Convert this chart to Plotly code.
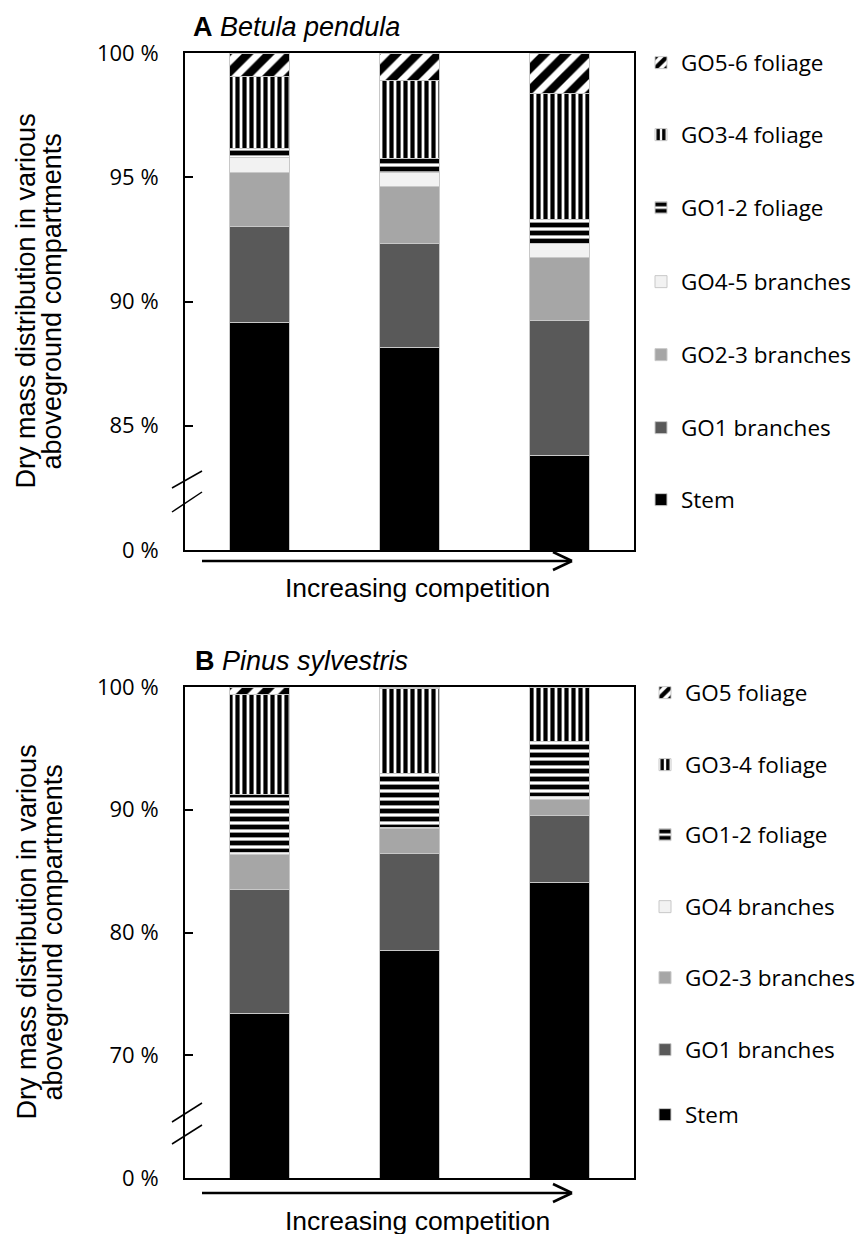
import plotly.graph_objects as go

W, H = 863, 1234
OFF = 8  # page body margin of the html page

# ---------------- data ----------------
categories = ["c1", "c2", "c3"]

# Panel A: Betula pendula (bottom -> top)
a_labels = ["Stem", "GO1 branches", "GO2-3 branches", "GO4-5 branches",
            "GO1-2 foliage", "GO3-4 foliage", "GO5-6 foliage"]
a_stem = [89.15, 88.15, 83.79]
a_go1_br = [3.87, 4.19, 5.44]
a_go23_br = [2.18, 2.30, 2.54]
a_go45_br = [0.60, 0.56, 0.57]
a_go12_fol = [0.36, 0.57, 0.97]
a_go34_fol = [2.91, 3.14, 5.08]
a_go56_fol = [0.93, 1.09, 1.61]

# Panel B: Pinus sylvestris (bottom -> top)
b_labels = ["Stem", "GO1 branches", "GO2-3 branches", "GO4 branches",
            "GO1-2 foliage", "GO3-4 foliage", "GO5 foliage"]
b_stem = [73.43, 78.57, 84.11]
b_go1_br = [10.11, 7.90, 5.46]
b_go23_br = [2.85, 2.02, 1.30]
b_go4_br = [0.16, 0.10, 0.17]
b_go12_fol = [4.73, 4.40, 4.48]
b_go34_fol = [8.15, 6.85, 4.40]
b_go5_fol = [0.57, 0.16, 0.08]

a_tickvals = [80, 85, 90, 95, 100]
a_ticktext = ["0 %", "85 %", "90 %", "95 %", "100 %"]
b_tickvals = [60, 70, 80, 90, 100]
b_ticktext = ["0 %", "70 %", "80 %", "90 %", "100 %"]

y_title = ["Dry mass distribution in various", "aboveground compartments"]
x_text = "Increasing competition"
title_a = "<b>A</b> <i>Betula pendula</i>"
title_b = "<b>B</b> <i>Pinus sylvestris</i>"

# ---------------- styles ----------------
styles = [
    dict(color="#000000"),
    dict(color="#595959"),
    dict(color="#a6a6a6"),
    dict(color="#f2f2f2"),
    dict(color="white", pattern=dict(shape="-", fgcolor="#000000", bgcolor="white", fgopacity=1,
                                     size=8, solidity=0.6)),
    dict(color="white", pattern=dict(shape="|", fgcolor="#000000", bgcolor="white", fgopacity=1,
                                     size=7, solidity=0.6)),
    dict(color="white", pattern=dict(shape="/", fgcolor="#000000", bgcolor="white", fgopacity=1,
                                     size=15, solidity=0.55)),
]

def px2x(p):
    return (p - OFF) / W

def py2y(p):
    return 1 - (p - OFF) / H

fig = go.Figure()

a_series = [a_stem, a_go1_br, a_go23_br, a_go45_br, a_go12_fol, a_go34_fol, a_go56_fol]
b_series = [b_stem, b_go1_br, b_go23_br, b_go4_br, b_go12_fol, b_go34_fol, b_go5_fol]

# legend item centres (pixels)
a_leg_y = [500, 428, 355, 282, 208, 135, 63]
b_leg_y = [1115, 1050, 978, 907, 835, 765, 693]

leg_font = dict(family="Open Sans", size=22.5, color="black")
legends = {}
k = 1
for i, (vals, lab) in enumerate(zip(a_series, a_labels)):
    name = "legend" if k == 1 else f"legend{k}"
    fig.add_trace(go.Bar(x=categories, y=vals, name=lab, xaxis="x", yaxis="y",
                         marker=dict(line=dict(color="#c8c8c8", width=1), **styles[i]),
                         legend=name, showlegend=True))
    legends[name] = dict(x=px2x(641), xanchor="left", y=py2y(a_leg_y[i]),
                         yanchor="middle", font=leg_font, bgcolor="rgba(0,0,0,0)")
    k += 1
for i, (vals, lab) in enumerate(zip(b_series, b_labels)):
    name = f"legend{k}"
    fig.add_trace(go.Bar(x=categories, y=vals, name=lab, xaxis="x2", yaxis="y2",
                         marker=dict(line=dict(color="#c8c8c8", width=1), **styles[i]),
                         legend=name, showlegend=True))
    legends[name] = dict(x=px2x(645), xanchor="left", y=py2y(b_leg_y[i]),
                         yanchor="middle", font=leg_font, bgcolor="rgba(0,0,0,0)")
    k += 1

xdom = [px2x(185), px2x(634)]
ya_dom = [py2y(550), py2y(53)]
yb_dom = [py2y(1178), py2y(687)]

tick_font = dict(family="Open Sans", size=22, color="black")
common_y = dict(showline=True, linecolor="black", linewidth=2, mirror=True, ticks="inside",
                ticklen=8, tickwidth=2, tickcolor="black", showgrid=False, zeroline=False,
                tickfont=tick_font, ticklabelstandoff=20, automargin=False)
common_x = dict(showline=True, linecolor="black", linewidth=2, mirror=True, ticks="",
                showticklabels=False, showgrid=False, zeroline=False, automargin=False)

fig.update_layout(
    width=W, height=H,
    margin=dict(l=0, r=0, t=0, b=0, autoexpand=False),
    paper_bgcolor="white", plot_bgcolor="white",
    barmode="stack", bargap=0.6,
    xaxis=dict(domain=xdom, anchor="y", **common_x),
    yaxis=dict(domain=ya_dom, anchor="x", range=[80, 100], tickvals=a_tickvals,
               ticktext=a_ticktext, **common_y),
    xaxis2=dict(domain=xdom, anchor="y2", **common_x),
    yaxis2=dict(domain=yb_dom, anchor="x2", range=[60, 100], tickvals=b_tickvals,
                ticktext=b_ticktext, **common_y),
    **legends,
)

ann_font = dict(family="Liberation Sans", size=27, color="black")
annotations = []
for (top, bot), title, ty, txy, tx in [((53, 550), title_a, 27, 588, 191),
                                      ((687, 1178), title_b, 661, 1221, 193)]:
    mid = (top + bot) / 2
    annotations.append(dict(text=y_title[0], x=px2x(26), y=py2y(mid), xref="paper", yref="paper",
                            textangle=-90, showarrow=False, font=ann_font,
                            xanchor="center", yanchor="middle"))
    annotations.append(dict(text=y_title[1], x=px2x(52), y=py2y(mid), xref="paper", yref="paper",
                            textangle=-90, showarrow=False, font=ann_font,
                            xanchor="center", yanchor="middle"))
    annotations.append(dict(text=title, x=px2x(tx), y=py2y(ty), xref="paper", yref="paper",
                            showarrow=False, font=dict(family="Liberation Sans", size=27, color="black"),
                            xanchor="left", yanchor="middle"))
    annotations.append(dict(text=x_text, x=px2x(417), y=py2y(txy), xref="paper", yref="paper",
                            showarrow=False, font=dict(family="Liberation Sans", size=26.5, color="black"),
                            xanchor="center", yanchor="middle"))
fig.update_layout(annotations=annotations)

shapes = []
line_style = dict(color="black", width=1.5)
for (y1a, y1b, y2a, y2b) in [(488, 471, 512, 492), (1122, 1103, 1144, 1125)]:
    shapes.append(dict(type="line", xref="paper", yref="paper", x0=px2x(172), y0=py2y(y1a),
                       x1=px2x(202), y1=py2y(y1b), line=line_style))
    shapes.append(dict(type="line", xref="paper", yref="paper", x0=px2x(172), y0=py2y(y2a),
                       x1=px2x(202), y1=py2y(y2b), line=line_style))
arrow_style = dict(color="black", width=2.5)
for ay in [561, 1193]:
    shapes.append(dict(type="line", xref="paper", yref="paper", x0=px2x(202), y0=py2y(ay),
                       x1=px2x(571), y1=py2y(ay), line=arrow_style))
    shapes.append(dict(type="line", xref="paper", yref="paper", x0=px2x(553), y0=py2y(ay - 9),
                       x1=px2x(572), y1=py2y(ay), line=arrow_style))
    shapes.append(dict(type="line", xref="paper", yref="paper", x0=px2x(553), y0=py2y(ay + 9),
                       x1=px2x(572), y1=py2y(ay), line=arrow_style))
fig.update_layout(shapes=shapes)

fig.write_html("out.html")
